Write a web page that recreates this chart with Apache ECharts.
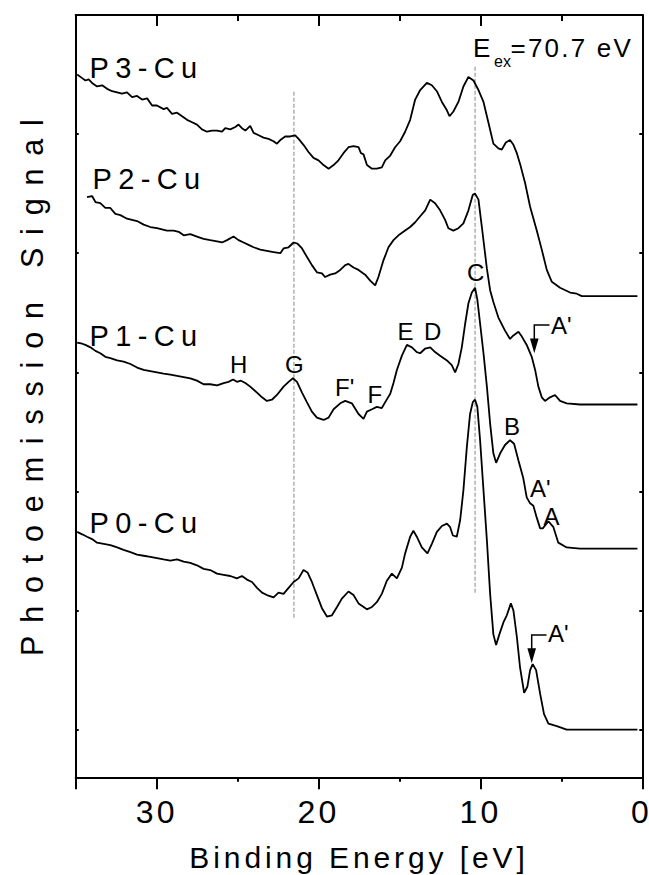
<!DOCTYPE html>
<html><head><meta charset="utf-8">
<script src="https://cdn.jsdelivr.net/npm/echarts@6/dist/echarts.min.js"></script>
<style>
html,body{margin:0;padding:0;background:#fff;overflow:hidden;width:649px;height:875px;}
#chart{position:absolute;left:0;top:0;width:649px;height:875px;overflow:hidden;}
#chart svg{display:block;}
#chart svg text{letter-spacing:0;}
#chart svg text[style*="32px"]{letter-spacing:0.1em;}
#chart svg text[style*="30px"]{letter-spacing:0.13em;}
#chart svg text[style*="30.5px"]{letter-spacing:0.42em;}
#chart svg text[style*="29px"]{letter-spacing:0.22em;}
#chart svg text[style*="26px"]{letter-spacing:0.085em;}
</style></head><body><div id="chart"></div>
<script>
// ---- data (binding energy in eV, photoemission signal in arb. units, offset per curve) ----
const p3Spectrum = [[34.91,5.50],[34.60,5.47],[34.40,5.45],[34.20,5.46],[33.99,5.43],[33.68,5.40],[33.37,5.41],[33.06,5.38],[32.75,5.36],[32.44,5.35],[32.14,5.34],[31.83,5.35],[31.52,5.31],[31.21,5.32],[30.90,5.29],[30.59,5.30],[30.28,5.24],[29.98,5.24],[29.57,5.21],[29.36,5.22],[29.05,5.17],[28.74,5.18],[28.43,5.15],[28.12,5.12],[27.81,5.10],[27.51,5.08],[27.20,5.04],[26.89,5.02],[26.58,5.03],[26.27,5.03],[25.96,5.02],[25.76,5.05],[25.45,5.04],[25.14,5.06],[24.94,5.08],[24.73,5.05],[24.52,5.03],[24.22,5.07],[24.01,5.01],[23.70,4.99],[23.40,4.97],[23.09,4.96],[22.78,4.94],[22.57,4.92],[22.36,4.95],[22.06,4.98],[21.75,4.98],[21.44,4.99],[21.23,4.96],[20.93,4.91],[20.62,4.85],[20.31,4.80],[20.00,4.78],[19.69,4.74],[19.38,4.71],[19.07,4.74],[18.77,4.78],[18.46,4.84],[18.15,4.89],[17.84,4.90],[17.53,4.89],[17.38,4.84],[17.22,4.83],[17.01,4.74],[16.70,4.71],[16.40,4.71],[16.09,4.72],[15.88,4.78],[15.57,4.82],[15.27,4.89],[14.96,4.94],[14.65,5.02],[14.34,5.12],[14.03,5.29],[13.72,5.37],[13.31,5.43],[13.00,5.41],[12.69,5.36],[12.38,5.27],[12.07,5.20],[11.91,5.15],[11.67,5.19],[11.36,5.27],[11.05,5.40],[10.74,5.48],[10.43,5.45],[10.12,5.37],[9.81,5.27],[9.51,5.10],[9.20,4.92],[8.89,4.88],[8.68,4.87],[8.43,4.93],[8.17,4.95],[7.96,4.91],[7.75,4.84],[7.55,4.75],[7.24,4.59],[6.93,4.39],[6.52,4.19],[6.21,4.03],[5.90,3.86],[5.59,3.76],[5.08,3.71],[4.46,3.67],[4.05,3.66],[3.74,3.64],[0.30,3.64]];

const p2Spectrum = [[34.30,4.47],[33.99,4.48],[33.78,4.43],[33.48,4.42],[33.17,4.38],[32.86,4.38],[32.55,4.33],[32.24,4.32],[31.83,4.29],[31.52,4.28],[31.21,4.27],[30.80,4.24],[30.39,4.22],[29.98,4.21],[29.67,4.20],[29.36,4.19],[28.95,4.19],[28.64,4.18],[28.33,4.15],[27.92,4.16],[27.51,4.14],[27.10,4.12],[26.69,4.11],[26.27,4.10],[25.96,4.09],[25.65,4.11],[25.25,4.14],[24.94,4.11],[24.63,4.09],[24.32,4.07],[24.01,4.05],[23.60,4.03],[23.19,4.02],[22.78,4.01],[22.36,4.00],[22.16,4.04],[21.85,4.05],[21.54,4.09],[21.30,4.08],[21.02,4.04],[20.72,3.97],[20.41,3.90],[20.10,3.84],[19.79,3.83],[19.59,3.80],[19.28,3.82],[18.97,3.83],[18.66,3.86],[18.35,3.90],[18.15,3.91],[17.84,3.88],[17.53,3.86],[17.12,3.82],[16.81,3.77],[16.50,3.73],[16.30,3.80],[15.99,3.94],[15.68,4.05],[15.37,4.11],[15.06,4.15],[14.65,4.19],[14.34,4.22],[14.03,4.26],[13.72,4.31],[13.41,4.36],[13.10,4.45],[12.80,4.42],[12.49,4.36],[12.18,4.28],[11.98,4.21],[11.67,4.19],[11.36,4.21],[11.05,4.25],[10.74,4.36],[10.47,4.49],[10.33,4.50],[10.12,4.45],[9.91,4.22],[9.60,3.87],[9.40,3.69],[9.20,3.59],[8.89,3.46],[8.48,3.35],[8.17,3.28],[7.96,3.31],[7.65,3.34],[7.44,3.30],[7.14,3.23],[6.83,3.13],[6.62,3.02],[6.42,2.88],[6.21,2.79],[6.01,2.76],[5.70,2.79],[5.39,2.81],[5.08,2.76],[4.67,2.74],[3.85,2.73],[0.30,2.73]];

const p1Spectrum = [[34.91,3.25],[34.60,3.24],[34.40,3.23],[34.09,3.21],[33.78,3.18],[33.48,3.16],[33.17,3.13],[32.86,3.12],[32.44,3.10],[32.04,3.09],[31.62,3.07],[31.21,3.04],[30.80,3.02],[30.39,3.01],[29.98,3.00],[29.57,2.99],[29.15,2.98],[28.74,2.97],[28.33,2.96],[27.92,2.95],[27.51,2.93],[27.10,2.90],[26.69,2.90],[26.27,2.89],[25.86,2.91],[25.56,2.92],[25.28,2.94],[25.04,2.92],[24.79,2.93],[24.52,2.91],[24.22,2.88],[23.80,2.83],[23.49,2.79],[23.19,2.76],[22.88,2.77],[22.57,2.81],[22.16,2.88],[21.85,2.92],[21.58,2.95],[21.33,2.92],[21.02,2.83],[20.72,2.75],[20.41,2.67],[20.10,2.62],[19.69,2.60],[19.38,2.62],[19.07,2.69],[18.66,2.74],[18.35,2.76],[17.94,2.74],[17.53,2.65],[17.22,2.61],[17.01,2.67],[16.70,2.69],[16.40,2.71],[16.09,2.70],[15.88,2.75],[15.57,2.82],[15.37,2.91],[15.16,3.02],[14.85,3.14],[14.54,3.23],[14.23,3.21],[13.93,3.17],[13.72,3.16],[13.41,3.20],[13.10,3.21],[12.80,3.17],[12.49,3.14],[12.07,3.10],[11.77,3.06],[11.56,3.00],[11.36,3.07],[11.15,3.21],[10.94,3.41],[10.74,3.58],[10.53,3.67],[10.33,3.71],[10.19,3.61],[10.02,3.41],[9.81,3.16],[9.60,2.88],[9.40,2.57],[9.20,2.32],[9.03,2.24],[8.78,2.32],[8.48,2.39],[8.17,2.43],[7.92,2.40],[7.65,2.26],[7.35,2.11],[7.14,1.95],[6.93,1.90],[6.73,1.88],[6.52,1.78],[6.31,1.69],[6.15,1.69],[5.80,1.75],[5.49,1.70],[5.19,1.57],[4.67,1.53],[3.85,1.52],[0.30,1.52]];

const p0Spectrum = [[34.91,1.66],[34.60,1.64],[34.30,1.62],[33.99,1.60],[33.68,1.57],[33.27,1.56],[32.86,1.55],[32.44,1.53],[32.04,1.51],[31.62,1.49],[31.21,1.47],[30.80,1.46],[30.39,1.45],[29.98,1.44],[29.57,1.43],[29.15,1.42],[28.74,1.43],[28.33,1.41],[27.92,1.40],[27.51,1.38],[27.10,1.35],[26.69,1.34],[26.27,1.31],[25.86,1.30],[25.45,1.29],[25.04,1.27],[24.73,1.29],[24.42,1.26],[24.11,1.24],[23.80,1.19],[23.49,1.15],[23.19,1.13],[22.78,1.11],[22.47,1.15],[22.16,1.14],[21.85,1.19],[21.54,1.24],[21.23,1.27],[20.93,1.34],[20.68,1.32],[20.41,1.24],[20.10,1.13],[19.79,1.02],[19.48,0.95],[19.17,0.96],[18.86,1.03],[18.56,1.10],[18.15,1.16],[17.84,1.13],[17.53,1.06],[17.01,1.01],[16.70,1.03],[16.40,1.07],[16.09,1.14],[15.78,1.25],[15.47,1.31],[15.16,1.27],[14.85,1.36],[14.65,1.48],[14.34,1.62],[14.14,1.67],[13.93,1.62],[13.62,1.53],[13.27,1.48],[13.00,1.56],[12.69,1.66],[12.38,1.71],[12.07,1.73],[11.87,1.70],[11.70,1.63],[11.46,1.62],[11.25,1.76],[11.05,2.01],[10.84,2.37],[10.64,2.65],[10.47,2.75],[10.33,2.77],[10.19,2.71],[10.02,2.43],[9.81,2.01],[9.60,1.59],[9.40,1.14],[9.20,0.80],[9.03,0.71],[8.83,0.80],[8.58,0.90],[8.37,0.96],[8.12,1.06],[7.96,1.00],[7.75,0.78],[7.55,0.52],[7.30,0.31],[7.10,0.36],[6.93,0.50],[6.77,0.55],[6.56,0.50],[6.31,0.30],[6.07,0.13],[5.80,0.05],[5.28,0.03],[4.67,0.00],[0.30,0.00]];

const guideEnergies = [21.52, 10.33];
const guideSpans = [[0.94, 5.36], [1.15, 5.57]];
const xTickValues = [0, 10, 20, 30];
const yTickValues = [0, 1, 2, 3, 4, 5, 6];

// ---- chart ----
const FONT = '"Liberation Sans", Arial, Helvetica, sans-serif';
const chart = echarts.init(document.getElementById('chart'), null, {renderer: 'svg', width: 649, height: 875});
const black = '#000';
const axisLine = {show: true, onZero: false, lineStyle: {color: black, width: 2}};
const tickStyle = {color: black, width: 2};

function spectrumSeries(name, data) {
  return {
    name: name, type: 'line', data: data, showSymbol: false, symbol: 'none',
    lineStyle: {color: black, width: 1.8}, silent: true, z: 3
  };
}
function guideSeries(i) {
  return {
    type: 'line', showSymbol: false, symbol: 'none', silent: true, z: 2,
    data: [[guideEnergies[i], guideSpans[i][0]], [guideEnergies[i], guideSpans[i][1]]],
    lineStyle: {color: '#9a9a9a', width: 1.2, type: [4, 2]}
  };
}
function txt(x, y, text, size) {
  return {type: 'text', x: x, y: y, z: 10, silent: true,
    style: {text: text, fill: black, font: size + 'px ' + FONT, align: 'left', verticalAlign: 'middle'}};
}

const option = {
  animation: false,
  backgroundColor: '#fff',
  textStyle: {fontFamily: FONT, color: black},
  grid: {left: 75.7, right: 6.7, top: 15, bottom: 97.7, containLabel: false, outerBoundsMode: 'none'},
  xAxis: [{
    type: 'value', position: 'bottom', min: 0, max: 35, interval: 10, inverse: true,
    axisLine: axisLine,
    axisTick: {show: true, inside: false, length: 12, lineStyle: tickStyle},
    minorTick: {show: true, splitNumber: 2, length: 4.5, lineStyle: tickStyle},
    axisLabel: {show: true, color: black, fontSize: 32, fontFamily: FONT, margin: 19,
      formatter: function (v) {
        if (xTickValues.indexOf(v) < 0) return '';
        return v === 0 ? '{edge|0}' : String(v);
      },
      rich: {edge: {fontSize: 31.9, fontFamily: FONT, color: black, padding: [0, 5, 0, 0]}}},
    splitLine: {show: false}, minorSplitLine: {show: false},
    name: 'Binding Energy [eV]', nameLocation: 'middle', nameGap: 65,
    nameTextStyle: {color: black, fontSize: 30, fontFamily: FONT}
  }, {
    type: 'value', position: 'top', min: 0, max: 35, interval: 10, inverse: true,
    axisLine: axisLine,
    axisTick: {show: true, inside: true, length: 11, lineStyle: tickStyle},
    minorTick: {show: true, splitNumber: 2, length: 6, lineStyle: tickStyle},
    axisLabel: {show: false}, splitLine: {show: false}, minorSplitLine: {show: false}
  }],
  yAxis: [{
    type: 'value', position: 'left', min: -0.4, max: 6,
    axisLine: axisLine,
    axisTick: {show: true, inside: true, length: 3, lineStyle: tickStyle, customValues: yTickValues},
    axisLabel: {show: false}, splitLine: {show: false},
    name: 'Photoemission Signal', nameLocation: 'middle', nameGap: 28,
    nameTextStyle: {color: black, fontSize: 30.5, fontFamily: FONT, padding: [0, 0, 0, 30]}
  }, {
    type: 'value', position: 'right', min: -0.4, max: 6,
    axisLine: axisLine,
    axisTick: {show: true, inside: true, length: 3, lineStyle: tickStyle, customValues: yTickValues},
    axisLabel: {show: false}, splitLine: {show: false}
  }],
  series: [
    guideSeries(0), guideSeries(1),
    spectrumSeries('P3-Cu', p3Spectrum),
    spectrumSeries('P2-Cu', p2Spectrum),
    spectrumSeries('P1-Cu', p1Spectrum),
    spectrumSeries('P0-Cu', p0Spectrum)
  ],
  graphic: {elements: [
    txt(89.5, 67.5, 'P3-Cu', 29),
    txt(92.5, 179, 'P2-Cu', 29),
    txt(89.5, 335.5, 'P1-Cu', 29),
    txt(89.5, 523, 'P0-Cu', 29),
    txt(473, 47.5, 'E', 26),
    txt(494, 61.5, 'ex', 16),
    txt(510.5, 47.5, '=70.7 eV', 26),
    txt(230, 364, 'H', 24),
    txt(285, 364, 'G', 24),
    txt(335, 387.5, "F'", 24),
    txt(367.5, 394, 'F', 24),
    txt(397.5, 331.5, 'E', 24),
    txt(424, 331.5, 'D', 24),
    txt(467, 272.5, 'C', 24),
    txt(504, 426.7, 'B', 24),
    txt(530, 488, "A'", 24),
    txt(543.5, 516.5, 'A', 24),
    txt(551, 325, "A'", 24),
    txt(548, 633, "A'", 24),
    {type: 'polyline', z: 10, silent: true, shape: {points: [[549.5, 325], [534.3, 325], [534.3, 341]]},
      style: {stroke: black, lineWidth: 1.5, fill: null}},
    {type: 'polygon', z: 10, silent: true, shape: {points: [[530, 338.5], [538.6, 338.5], [534.3, 353.3]]},
      style: {fill: black}},
    {type: 'polyline', z: 10, silent: true, shape: {points: [[546.5, 635], [531.7, 635], [531.7, 650]]},
      style: {stroke: black, lineWidth: 1.5, fill: null}},
    {type: 'polygon', z: 10, silent: true, shape: {points: [[527.4, 648.3], [536, 648.3], [531.7, 663.3]]},
      style: {fill: black}}
  ]}
};
chart.setOption(option);
</script>
</body></html>
